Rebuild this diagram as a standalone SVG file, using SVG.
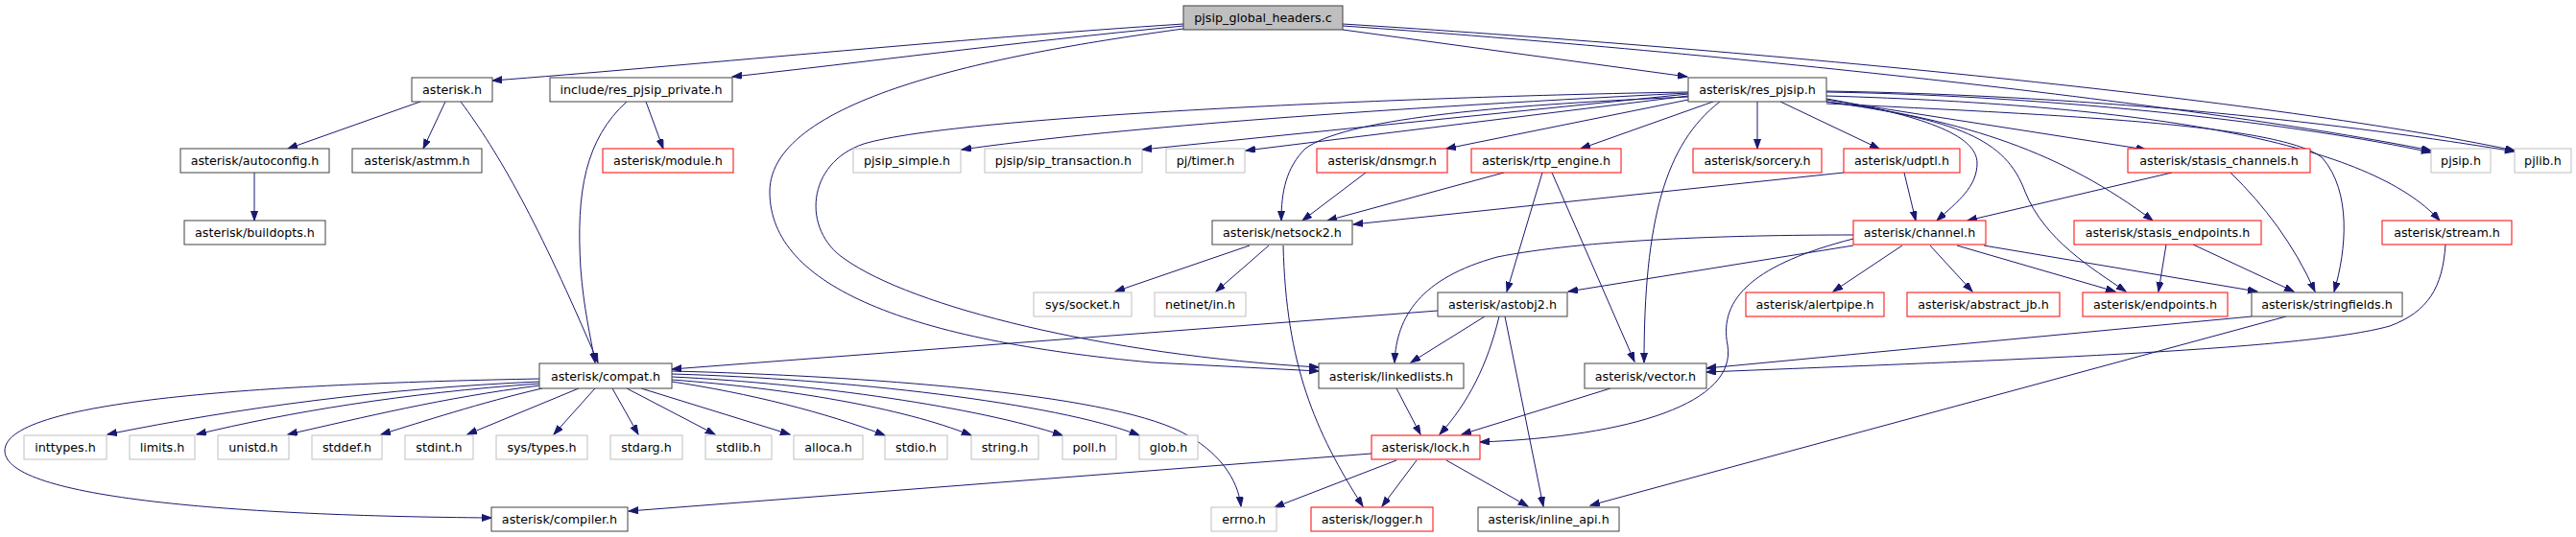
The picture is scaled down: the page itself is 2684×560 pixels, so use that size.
<svg xmlns="http://www.w3.org/2000/svg" width="2684" height="560" viewBox="0 0 2684 560">
<style>
rect{fill:#fff;stroke-width:1}
.b rect{stroke:#404040}
.r rect{stroke:#ff0000}
.g rect{stroke:#bfbfbf}
.root rect{fill:#bfbfbf;stroke:#404040}
text{font-family:"DejaVu Sans","Liberation Sans",sans-serif;font-size:12.7px;fill:#000;text-anchor:middle}
#edges path{fill:none;stroke:#191970;stroke-width:1;marker-end:url(#ah)}
</style>
<defs>
<marker id="ah" markerUnits="userSpaceOnUse" markerWidth="11" markerHeight="8" refX="10" refY="3.5" orient="auto">
<path d="M0,0 L10,3.5 L0,7 z" fill="#191970" stroke="#191970" stroke-width="1"/>
</marker>
</defs>
<rect x="0" y="0" width="2684" height="560" style="fill:#fff;stroke:none"/>
<g id="edges">
<path d="M1233,25 C1000,40 700,70 513,84"/>
<path d="M1233,27 C1050,45 900,65 763,80"/>
<path d="M1233,30 C1050,55 802,100 802,200 C802,300 950,355 1200,378 L1374,387"/>
<path d="M1399,31 L1758,80"/>
<path d="M1399,25 C1800,50 2350,100 2620,157"/>
<path d="M1399,27 C1800,55 2300,110 2533,157"/>
<path d="M438,106 L300,155"/>
<path d="M464,106 L441,155"/>
<path d="M480,106 C520,160 560,230 623,378"/>
<path d="M673,106 L691,155"/>
<path d="M653,106 C610,145 600,200 605,280 C608,320 615,350 620,378"/>
<path d="M265,180 L265,230"/>
<path d="M1759,96 C1500,100 1000,120 900,150 C840,170 835,240 880,270 C950,320 1150,370 1374,383"/>
<path d="M1759,97 C1400,115 1150,135 1002,156"/>
<path d="M1759,98 L1190,156"/>
<path d="M1759,100 L1298,157"/>
<path d="M1759,104 L1507,155"/>
<path d="M1785,106 L1647,155"/>
<path d="M1759,101 C1550,110 1400,125 1360,155 C1340,175 1335,200 1335,230"/>
<path d="M1792,106 C1735,150 1713,230 1713,378"/>
<path d="M1831,106 L1831,155"/>
<path d="M1855,106 L1958,155"/>
<path d="M1903,103 C2000,120 2060,140 2060,170 C2060,195 2040,210 2018,230"/>
<path d="M1903,104 L2236,156"/>
<path d="M1903,106 C2050,125 2150,160 2243,230"/>
<path d="M1903,106 C2040,125 2090,145 2110,200 C2130,250 2180,280 2215,304"/>
<path d="M1903,108 C2150,120 2380,130 2420,165 C2450,200 2445,260 2432,304"/>
<path d="M1903,100 C2250,110 2470,150 2542,230"/>
<path d="M1903,96 C2150,100 2400,130 2533,159"/>
<path d="M1903,95 C2200,100 2450,130 2620,158"/>
<path d="M1423,180 L1357,230"/>
<path d="M1567,180 L1383,230"/>
<path d="M1921,180 L1410,234"/>
<path d="M1302,256 L1162,304"/>
<path d="M1322,256 L1267,304"/>
<path d="M1337,256 C1340,380 1370,450 1420,528"/>
<path d="M1607,180 L1570,304"/>
<path d="M1617,180 L1703,377"/>
<path d="M1984,180 L1996,230"/>
<path d="M2263,180 L2050,230"/>
<path d="M2324,180 C2360,215 2390,255 2412,304"/>
<path d="M2285,255 L2390,304"/>
<path d="M2257,255 L2249,304"/>
<path d="M2067,256 L2352,304"/>
<path d="M2039,256 L2204,304"/>
<path d="M1982,256 L1910,304"/>
<path d="M2011,256 L2055,304"/>
<path d="M1931,245 C1800,245 1650,250 1560,268 C1480,290 1455,330 1453,378"/>
<path d="M1931,256 L1634,304"/>
<path d="M1931,249 C1830,275 1790,310 1800,360 C1810,420 1700,455 1542,461"/>
<path d="M1498,324 L700,385"/>
<path d="M1547,330 L1470,378"/>
<path d="M1562,330 C1550,380 1530,420 1500,453"/>
<path d="M1568,330 L1608,528"/>
<path d="M1455,405 L1480,453"/>
<path d="M1678,405 L1523,453"/>
<path d="M2346,330 L1778,384"/>
<path d="M2548,255 C2545,300 2530,325 2490,340 C2400,365 2100,375 1778,388"/>
<path d="M2382,330 L1657,527"/>
<path d="M1455,480 L1328,529"/>
<path d="M1476,480 L1440,528"/>
<path d="M1507,480 L1592,528"/>
<path d="M1429,473 L655,533"/>
<path d="M562,395 C300,400 5,415 5,470 C5,520 250,538 512,540"/>
<path d="M562,398 C400,405 250,425 112,453"/>
<path d="M562,400 C420,410 300,430 205,453"/>
<path d="M562,402 C460,415 380,435 300,453"/>
<path d="M565,405 C500,420 440,440 397,453"/>
<path d="M603,405 L487,453"/>
<path d="M620,405 L577,453"/>
<path d="M638,405 L665,453"/>
<path d="M653,405 L745,453"/>
<path d="M668,405 L823,453"/>
<path d="M700,398 C780,410 860,430 922,454"/>
<path d="M700,396 C820,405 940,425 1012,454"/>
<path d="M700,393 C850,400 1020,425 1107,454"/>
<path d="M700,390 C880,395 1100,420 1187,454"/>
<path d="M700,387 C900,392 1150,410 1230,450 C1270,470 1290,500 1293,528"/>
</g>
<g id="n_root" class="root"><rect x="1233" y="6" width="166" height="25"/><text x="1316" y="23">pjsip_global_headers.c</text></g>
<g id="n_asterisk" class="b"><rect x="429" y="81" width="84" height="25"/><text x="471" y="98">asterisk.h</text></g>
<g id="n_private" class="b"><rect x="573" y="81" width="190" height="25"/><text x="668" y="98">include/res_pjsip_private.h</text></g>
<g id="n_respjsip" class="b"><rect x="1759" y="81" width="144" height="25"/><text x="1831" y="98">asterisk/res_pjsip.h</text></g>
<g id="n_autoconfig" class="b"><rect x="188" y="155" width="155" height="25"/><text x="265.5" y="172">asterisk/autoconfig.h</text></g>
<g id="n_astmm" class="b"><rect x="367" y="155" width="135" height="25"/><text x="434.5" y="172">asterisk/astmm.h</text></g>
<g id="n_module" class="r"><rect x="628" y="155" width="136" height="25"/><text x="696" y="172">asterisk/module.h</text></g>
<g id="n_pjsipsimple" class="g"><rect x="889" y="155" width="112" height="25"/><text x="945" y="172">pjsip_simple.h</text></g>
<g id="n_siptrans" class="g"><rect x="1026" y="155" width="164" height="25"/><text x="1108" y="172">pjsip/sip_transaction.h</text></g>
<g id="n_timer" class="g"><rect x="1215" y="155" width="82" height="25"/><text x="1256" y="172">pj/timer.h</text></g>
<g id="n_dnsmgr" class="r"><rect x="1372" y="155" width="136" height="25"/><text x="1440" y="172">asterisk/dnsmgr.h</text></g>
<g id="n_rtp" class="r"><rect x="1533" y="155" width="156" height="25"/><text x="1611" y="172">asterisk/rtp_engine.h</text></g>
<g id="n_sorcery" class="r"><rect x="1764" y="155" width="134" height="25"/><text x="1831" y="172">asterisk/sorcery.h</text></g>
<g id="n_udptl" class="r"><rect x="1921" y="155" width="121" height="25"/><text x="1981.5" y="172">asterisk/udptl.h</text></g>
<g id="n_stasischan" class="r"><rect x="2217" y="155" width="190" height="25"/><text x="2312" y="172">asterisk/stasis_channels.h</text></g>
<g id="n_pjsiph" class="g"><rect x="2533" y="155" width="62" height="25"/><text x="2564" y="172">pjsip.h</text></g>
<g id="n_pjlib" class="g"><rect x="2620" y="155" width="59" height="25"/><text x="2649.5" y="172">pjlib.h</text></g>
<g id="n_buildopts" class="b"><rect x="192" y="230" width="147" height="25"/><text x="265.5" y="247">asterisk/buildopts.h</text></g>
<g id="n_netsock" class="b"><rect x="1263" y="230" width="146" height="25"/><text x="1336" y="247">asterisk/netsock2.h</text></g>
<g id="n_channel" class="r"><rect x="1931" y="230" width="138" height="25"/><text x="2000" y="247">asterisk/channel.h</text></g>
<g id="n_stasisend" class="r"><rect x="2161" y="230" width="195" height="25"/><text x="2258.5" y="247">asterisk/stasis_endpoints.h</text></g>
<g id="n_stream" class="r"><rect x="2482" y="230" width="135" height="25"/><text x="2549.5" y="247">asterisk/stream.h</text></g>
<g id="n_socket" class="g"><rect x="1077" y="305" width="102" height="25"/><text x="1128" y="322">sys/socket.h</text></g>
<g id="n_netinet" class="g"><rect x="1203" y="305" width="95" height="25"/><text x="1250.5" y="322">netinet/in.h</text></g>
<g id="n_astobj2" class="b"><rect x="1498" y="305" width="135" height="25"/><text x="1565.5" y="322">asterisk/astobj2.h</text></g>
<g id="n_alertpipe" class="r"><rect x="1819" y="305" width="144" height="25"/><text x="1891" y="322">asterisk/alertpipe.h</text></g>
<g id="n_abstractjb" class="r"><rect x="1987" y="305" width="159" height="25"/><text x="2066.5" y="322">asterisk/abstract_jb.h</text></g>
<g id="n_endpoints" class="r"><rect x="2170" y="305" width="151" height="25"/><text x="2245.5" y="322">asterisk/endpoints.h</text></g>
<g id="n_stringfields" class="b"><rect x="2346" y="305" width="157" height="25"/><text x="2424.5" y="322">asterisk/stringfields.h</text></g>
<g id="n_compat" class="b"><rect x="562" y="379" width="138" height="26"/><text x="631" y="397">asterisk/compat.h</text></g>
<g id="n_linkedlists" class="b"><rect x="1374" y="379" width="151" height="26"/><text x="1449.5" y="397">asterisk/linkedlists.h</text></g>
<g id="n_vector" class="b"><rect x="1651" y="379" width="127" height="26"/><text x="1714.5" y="397">asterisk/vector.h</text></g>
<g id="n_inttypes" class="g"><rect x="25" y="454" width="86" height="25"/><text x="68" y="471">inttypes.h</text></g>
<g id="n_limits" class="g"><rect x="135" y="454" width="68" height="25"/><text x="169" y="471">limits.h</text></g>
<g id="n_unistd" class="g"><rect x="227" y="454" width="74" height="25"/><text x="264" y="471">unistd.h</text></g>
<g id="n_stddef" class="g"><rect x="325" y="454" width="73" height="25"/><text x="361.5" y="471">stddef.h</text></g>
<g id="n_stdint" class="g"><rect x="422" y="454" width="71" height="25"/><text x="457.5" y="471">stdint.h</text></g>
<g id="n_systypes" class="g"><rect x="517" y="454" width="95" height="25"/><text x="564.5" y="471">sys/types.h</text></g>
<g id="n_stdarg" class="g"><rect x="636" y="454" width="75" height="25"/><text x="673.5" y="471">stdarg.h</text></g>
<g id="n_stdlib" class="g"><rect x="735" y="454" width="69" height="25"/><text x="769.5" y="471">stdlib.h</text></g>
<g id="n_alloca" class="g"><rect x="827" y="454" width="72" height="25"/><text x="863" y="471">alloca.h</text></g>
<g id="n_stdio" class="g"><rect x="922" y="454" width="65" height="25"/><text x="954.5" y="471">stdio.h</text></g>
<g id="n_string" class="g"><rect x="1012" y="454" width="70" height="25"/><text x="1047" y="471">string.h</text></g>
<g id="n_poll" class="g"><rect x="1107" y="454" width="56" height="25"/><text x="1135" y="471">poll.h</text></g>
<g id="n_glob" class="g"><rect x="1187" y="454" width="61" height="25"/><text x="1217.5" y="471">glob.h</text></g>
<g id="n_lock" class="r"><rect x="1429" y="454" width="113" height="25"/><text x="1485.5" y="471">asterisk/lock.h</text></g>
<g id="n_compiler" class="b"><rect x="512" y="529" width="142" height="25"/><text x="583" y="546">asterisk/compiler.h</text></g>
<g id="n_errno" class="g"><rect x="1262" y="529" width="68" height="25"/><text x="1296" y="546">errno.h</text></g>
<g id="n_logger" class="r"><rect x="1366" y="529" width="127" height="25"/><text x="1429.5" y="546">asterisk/logger.h</text></g>
<g id="n_inlineapi" class="b"><rect x="1540" y="529" width="147" height="25"/><text x="1613.5" y="546">asterisk/inline_api.h</text></g>
</svg>
